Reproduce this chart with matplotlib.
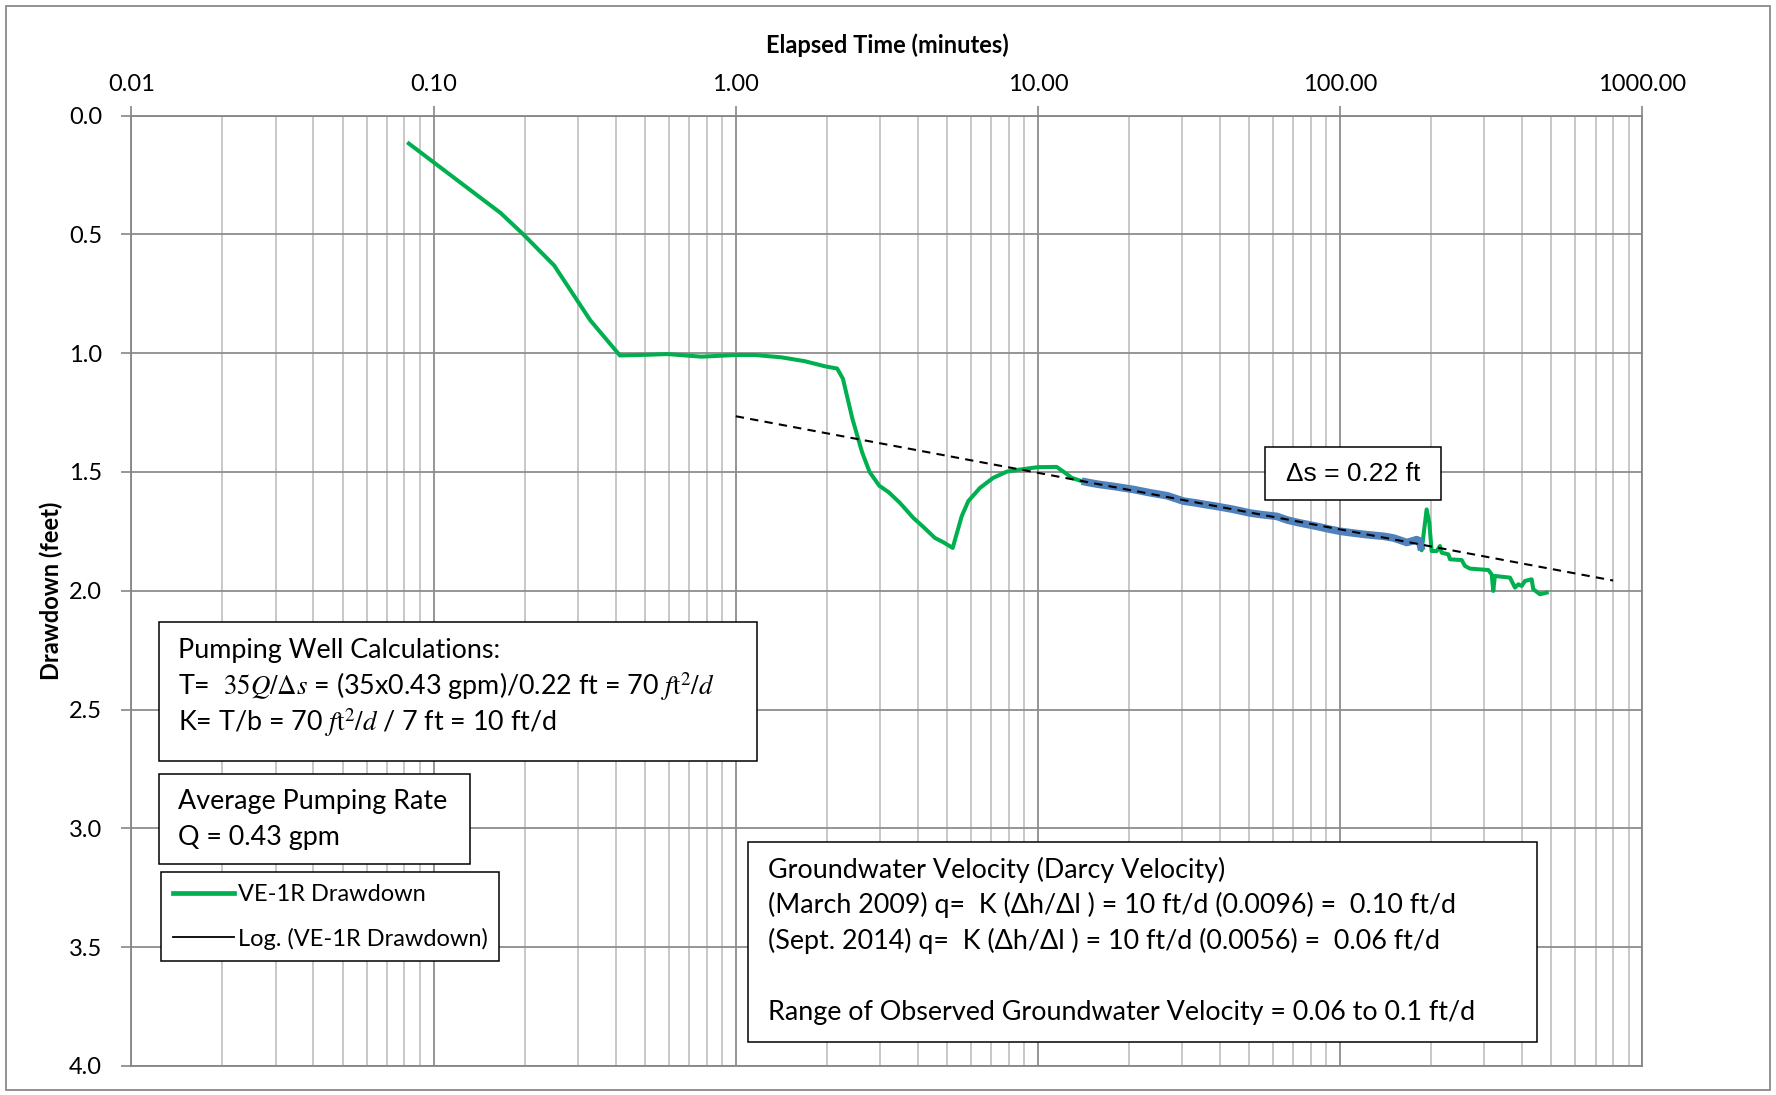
import numpy as np
import matplotlib
matplotlib.use('Agg')
import matplotlib.pyplot as plt
from matplotlib.ticker import FixedLocator, FuncFormatter, LogLocator, NullFormatter
from matplotlib.lines import Line2D
from matplotlib.patches import Rectangle

plt.rcParams['font.family'] = ['Lato', 'DejaVu Sans']
plt.rcParams['mathtext.fontset'] = 'stix'

# ---- datos ----
# tiempo (min) y abatimiento (ft), parte inicial
early_t = [0.0828, 0.1665, 0.198, 0.2505, 0.330, 0.4136, 0.512, 0.592, 0.769, 1.0,
           1.157, 1.419, 1.69, 1.98, 2.165, 2.262, 2.432, 2.617, 2.773, 2.983,
           3.208, 3.49, 3.87, 4.17, 4.56, 4.86, 5.22, 5.59, 5.88, 6.43,
           7.11, 7.88, 8.72, 10.0, 11.53, 12.29, 12.93]
early_s = [0.118, 0.41, 0.50, 0.631, 0.862, 1.01, 1.007, 1.004, 1.015, 1.008,
           1.008, 1.018, 1.034, 1.056, 1.065, 1.108, 1.277, 1.417, 1.501, 1.558,
           1.586, 1.630, 1.694, 1.731, 1.778, 1.796, 1.820, 1.687, 1.623, 1.567,
           1.525, 1.499, 1.490, 1.480, 1.479, 1.504, 1.525]
# tramo usado para la recta (serie azul)
fit_t = [13.95, 15.0, 16.0, 18.0, 20.7, 23.5, 26.7, 30.3, 33.1, 36.0,
         39.0, 44.0, 50.3, 55.0, 61.6, 67.0, 73.6, 83.6, 92.0, 100.0,
         110.0, 122.0, 139.0, 150.0, 160.0, 166.0, 172.0, 179.0, 183.0, 186.0]
fit_s = [1.539, 1.547, 1.553, 1.562, 1.574, 1.588, 1.600, 1.623, 1.630, 1.638,
         1.645, 1.657, 1.673, 1.680, 1.687, 1.703, 1.715, 1.729, 1.741, 1.750,
         1.757, 1.764, 1.771, 1.778, 1.790, 1.797, 1.792, 1.785, 1.790, 1.830]
# parte final
late_t = [193.2, 197.2, 200.7, 208.6, 213.9, 216.6, 228.0, 230.9, 252.3, 258.8,
          268.8, 309.2, 317.1, 321.0, 325.0, 364.6, 378.7, 388.5, 398.5, 408.7,
          430.0, 435.5, 458.3, 482.3]
late_s = [1.658, 1.714, 1.833, 1.833, 1.812, 1.840, 1.847, 1.868, 1.871, 1.896,
          1.907, 1.913, 1.931, 2.001, 1.938, 1.945, 1.987, 1.973, 1.980, 1.959,
          1.952, 1.994, 2.015, 2.008]
trend_range = [1.0, 800.0]

x_ticks = [0.01, 0.1, 1, 10, 100, 1000]
y_ticks = [0.0, 0.5, 1.0, 1.5, 2.0, 2.5, 3.0, 3.5, 4.0]

W, H = 1776, 1095
def fp(x, y):
    return (x / W, 1 - y / H)

fig = plt.figure(figsize=(W / 100, H / 100), dpi=100)
ax = fig.add_axes([131.4 / W, 1 - 1065.9 / H, 1511 / W, 950.4 / H])

all_t = early_t + fit_t + late_t
all_s = early_s + fit_s + late_s
ax.plot(all_t, all_s, color='#00B050', lw=2.9, zorder=3)
ax.plot(fit_t, fit_s, color='#4F81BD', lw=5.5, zorder=4, solid_capstyle='butt')

coef = np.polyfit(np.log10(fit_t), fit_s, 1)
tt = np.logspace(np.log10(trend_range[0]), np.log10(trend_range[1]), 50)
ax.plot(tt, np.polyval(coef, np.log10(tt)), color='black', lw=1.5, ls=(0, (4, 3)), zorder=5)

ax.set_xscale('log')
ax.set_xlim(0.01, 1000)
ax.set_ylim(4.0, 0.0)
ax.xaxis.tick_top()
ax.xaxis.set_label_position('top')
ax.xaxis.set_major_locator(FixedLocator(x_ticks))
ax.xaxis.set_major_formatter(FuncFormatter(lambda v, p: '%.2f' % v))
ax.xaxis.set_minor_locator(LogLocator(base=10, subs=np.arange(2, 10)))
ax.xaxis.set_minor_formatter(NullFormatter())
ax.set_yticks(y_ticks)
ax.yaxis.set_major_formatter(FuncFormatter(lambda v, p: '%.1f' % v))
ax.tick_params(axis='x', which='major', direction='out', length=7, width=1.2,
               color='#868686', labelsize=17, pad=8)
ax.tick_params(axis='x', which='minor', length=0)
ax.tick_params(axis='y', which='major', direction='out', length=7, width=1.2,
               color='#868686', labelsize=17, pad=14)
ax.grid(True, which='major', color='#8c8c8c', lw=1.3)
ax.grid(True, which='minor', axis='x', color='#c4c4c4', lw=1.3)
ax.set_axisbelow(True)
for sp in ax.spines.values():
    sp.set_color('#868686')
    sp.set_linewidth(1.3)

ax.set_xlabel('Elapsed Time (minutes)', fontsize=17, fontweight='bold', labelpad=15)
ax.set_ylabel('Drawdown (feet)', fontsize=17, fontweight='bold', labelpad=4)

# borde exterior
fig.patches.append(Rectangle(fp(5.7, 1090), (1770 - 5.7) / W, (1090 - 5.7) / H,
                             transform=fig.transFigure, fill=False, ec='#898989', lw=1.3))

def caja(x0, y0, x1, y1):
    fig.patches.append(Rectangle(fp(x0, y1), (x1 - x0) / W, (y1 - y0) / H,
                                 transform=fig.transFigure, fc='white', ec='black',
                                 lw=1.1, zorder=10))

fs = 19.4
caja(158.6, 621.9, 756.6, 761.2)
fig.text(*fp(177.8, 650.2), 'Pumping Well Calculations:', fontsize=fs, va='center', zorder=11)
fig.text(*fp(177.8, 686.4), r'T=  $35Q/\Delta s$ = (35x0.43 gpm)/0.22 ft = 70 $f\mathrm{t}^2/d$',
         fontsize=fs, va='center', zorder=11)
fig.text(*fp(177.8, 722.7), r'K= T/b = 70 $f\mathrm{t}^2/d$ / 7 ft = 10 ft/d',
         fontsize=fs, va='center', zorder=11)

caja(158.6, 773.7, 470, 864.3)
fig.text(*fp(177.8, 802), 'Average Pumping Rate', fontsize=fs, va='center', zorder=11)
fig.text(*fp(177.8, 838), 'Q = 0.43 gpm', fontsize=fs, va='center', zorder=11)

caja(747.6, 841.6, 1537.1, 1042.1)
fig.text(*fp(768, 870), 'Groundwater Velocity (Darcy Velocity)', fontsize=fs, va='center', zorder=11)
fig.text(*fp(768, 905), '(March 2009) q=  K (\u0394h/\u0394l ) = 10 ft/d (0.0096) =  0.10 ft/d',
         fontsize=fs, va='center', zorder=11)
fig.text(*fp(768, 941), '(Sept. 2014) q=  K (\u0394h/\u0394l ) = 10 ft/d (0.0056) =  0.06 ft/d',
         fontsize=fs, va='center', zorder=11)
fig.text(*fp(768, 1012.6), 'Range of Observed Groundwater Velocity = 0.06 to 0.1 ft/d',
         fontsize=fs, va='center', zorder=11)

caja(1265.2, 447.4, 1440.8, 499.5)
fig.text(*fp(1353, 474), '\u0394s = 0.22 ft', fontsize=19, family='Liberation Sans',
         ha='center', va='center', zorder=11)

handles = [Line2D([], [], color='#00B050', lw=3.4),
           Line2D([], [], color='black', lw=1.3)]
leg = ax.legend(handles, ['VE-1R Drawdown', 'Log. (VE-1R Drawdown)'],
                loc='upper left', bbox_to_anchor=fp(160.8, 872.2),
                bbox_transform=fig.transFigure, borderaxespad=0, fancybox=False,
                fontsize=17, handlelength=2.6, handletextpad=0.15, labelspacing=0.95,
                borderpad=0.5, framealpha=1)
leg.get_frame().set_edgecolor('black')
leg.get_frame().set_linewidth(1.1)
leg.set_zorder(12)

fig.savefig('out.png', dpi=100, facecolor='white')
